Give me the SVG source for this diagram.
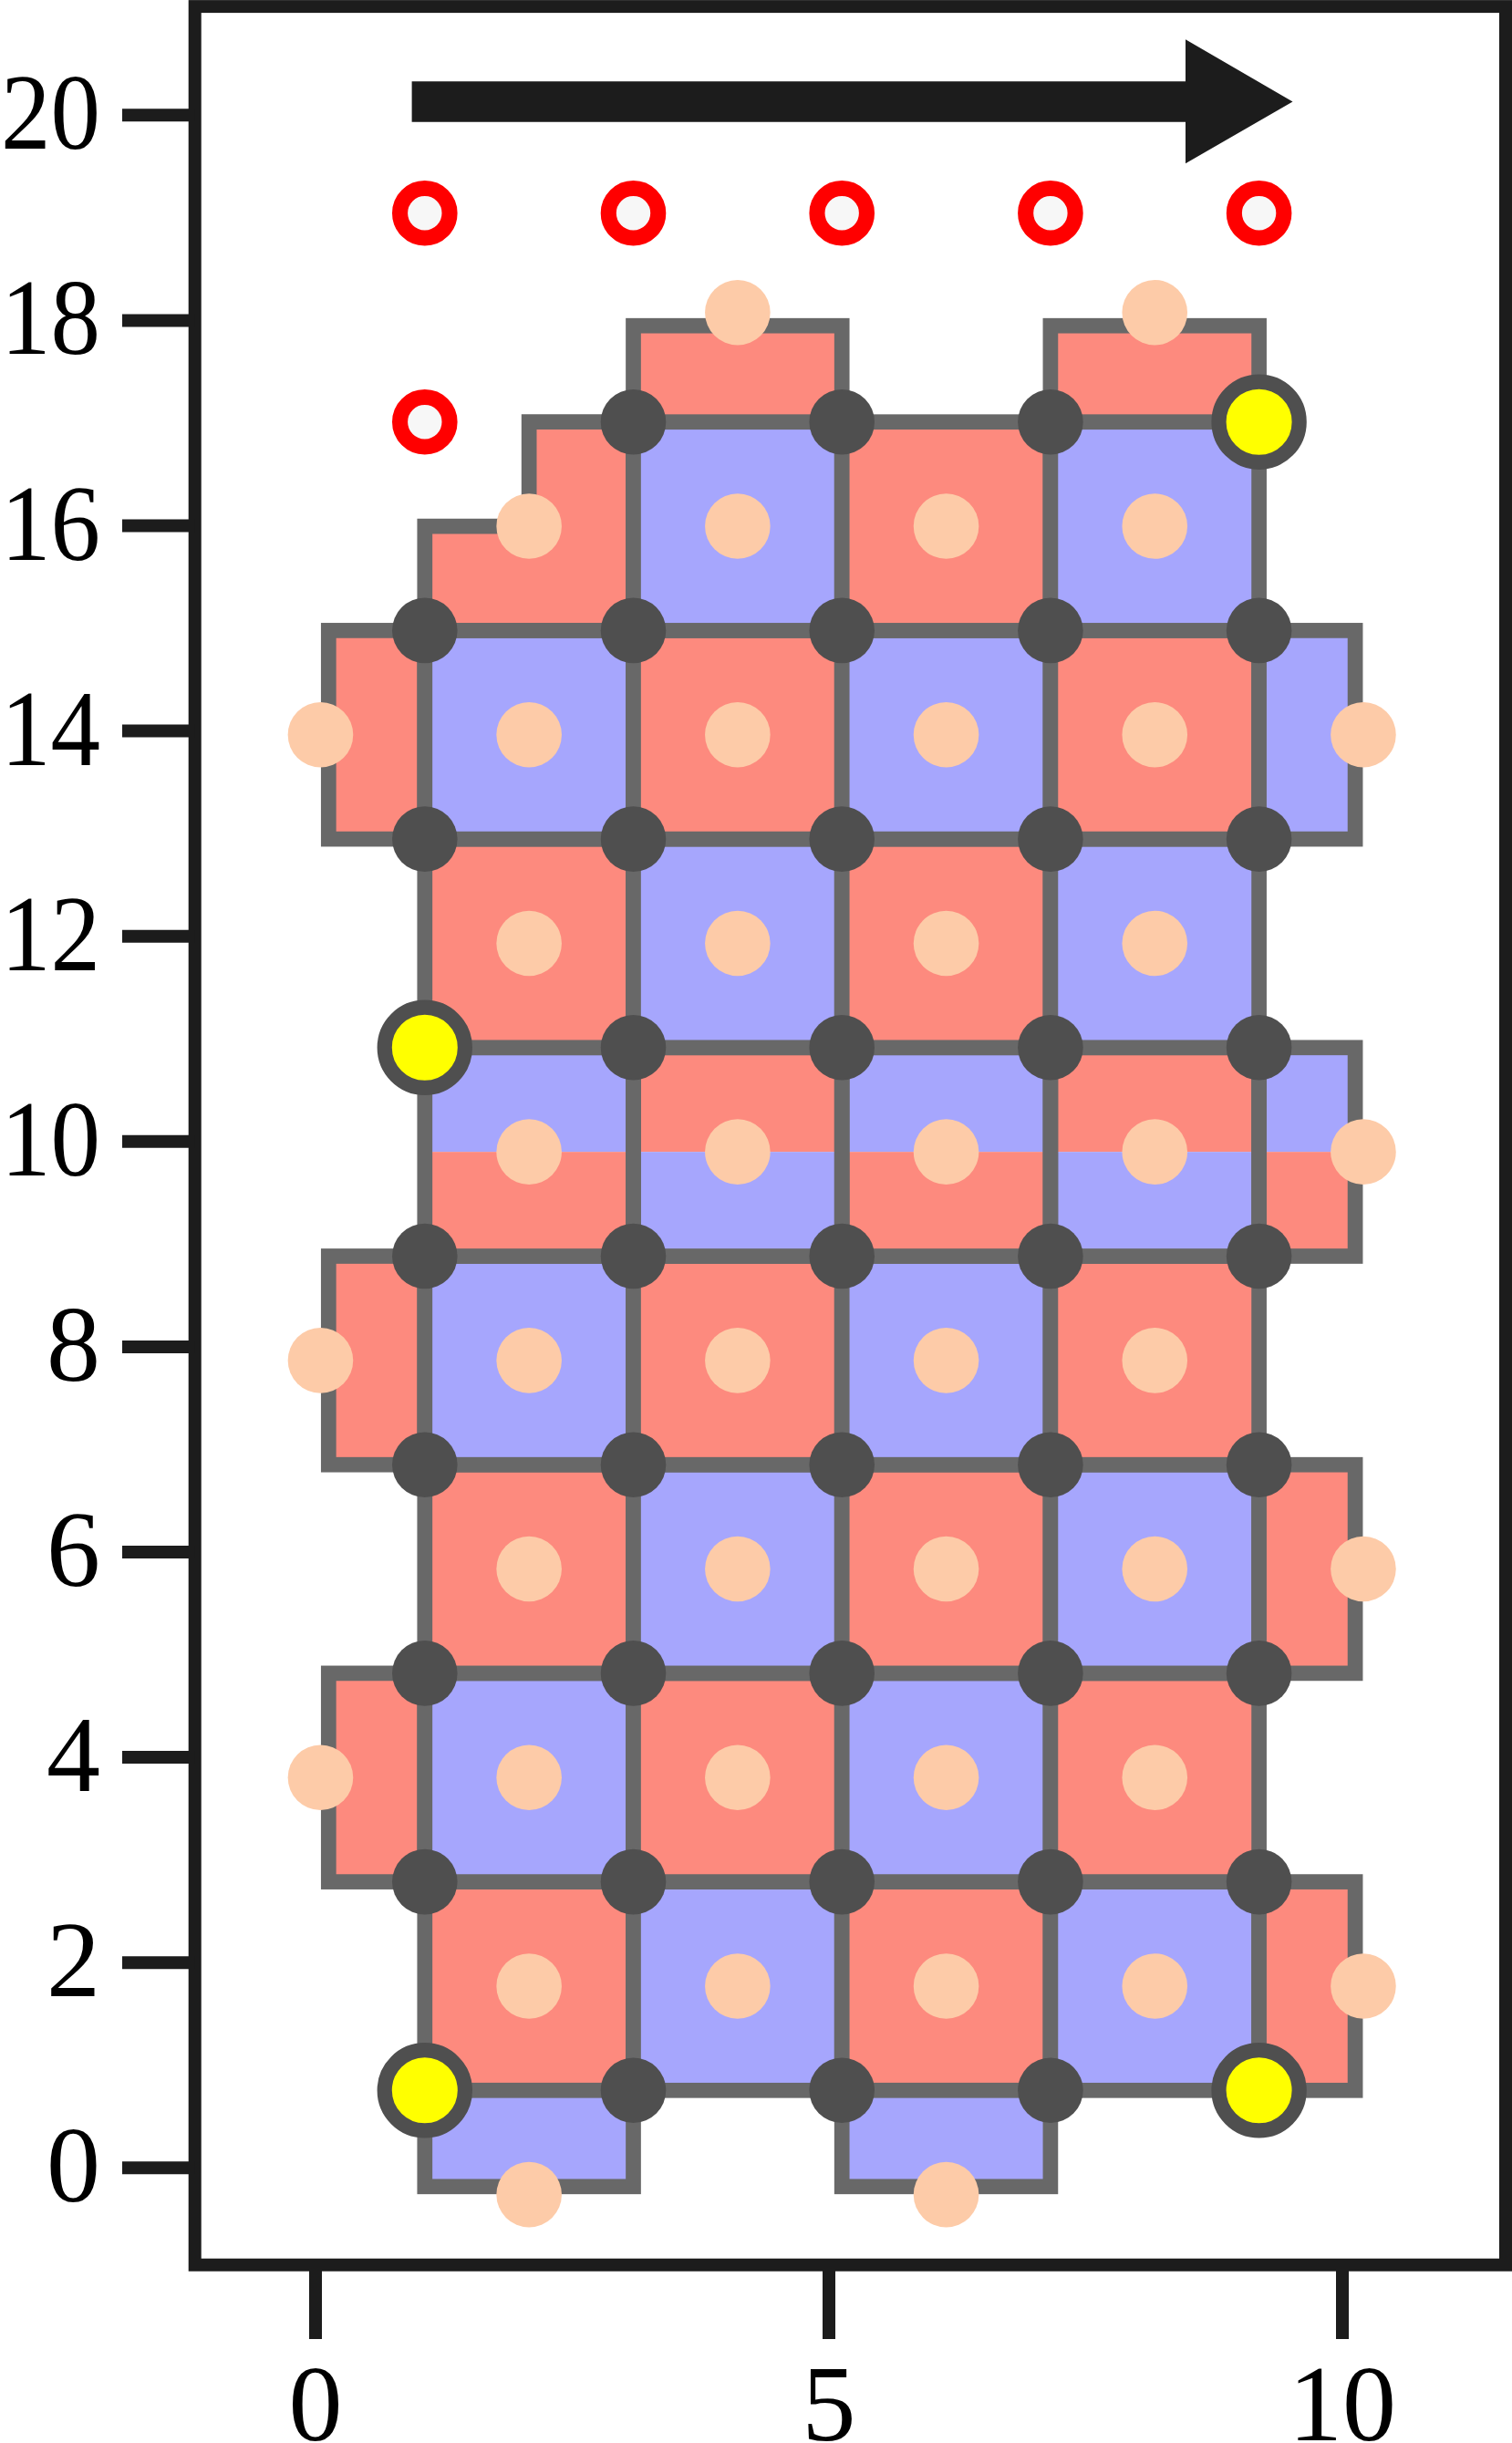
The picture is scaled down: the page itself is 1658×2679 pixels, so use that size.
<svg xmlns="http://www.w3.org/2000/svg" width="1658" height="2679" viewBox="0 0 1658 2679">
<style>
.r{fill:#FD8A7E}
.b{fill:#A6A6FD}
.c{stroke:#686868;stroke-width:16.7;stroke-linejoin:miter}
.o{fill:none;stroke:#686868;stroke-width:16.7}
.p{fill:#FDCBA8}
.n{fill:#4F4F4F}
.y{fill:#FFFF00;stroke:#4F4F4F;stroke-width:16.2}
.e{fill:#F7F7F7;stroke:#FF0000;stroke-width:17.1}
.ax{fill:none;stroke:#1C1C1C;stroke-width:14}
.tk{stroke:#1C1C1C;stroke-width:14}
.lb{font-family:"Liberation Serif","DejaVu Serif",serif;font-size:118px;fill:#000}
</style>
<rect width="1658" height="2679" fill="#fff"/>
<g id="axes">
<rect class="ax" x="213.7" y="7.1" width="1437.3" height="2476.6"/>
<g id="yticks">
<line class="tk" x1="134" y1="126.3" x2="213.7" y2="126.3"/>
<line class="tk" x1="134" y1="351.4" x2="213.7" y2="351.4"/>
<line class="tk" x1="134" y1="576.5" x2="213.7" y2="576.5"/>
<line class="tk" x1="134" y1="801.6" x2="213.7" y2="801.6"/>
<line class="tk" x1="134" y1="1026.7" x2="213.7" y2="1026.7"/>
<line class="tk" x1="134" y1="1251.8" x2="213.7" y2="1251.8"/>
<line class="tk" x1="134" y1="1476.9" x2="213.7" y2="1476.9"/>
<line class="tk" x1="134" y1="1702" x2="213.7" y2="1702"/>
<line class="tk" x1="134" y1="1927.1" x2="213.7" y2="1927.1"/>
<line class="tk" x1="134" y1="2152.2" x2="213.7" y2="2152.2"/>
<line class="tk" x1="134" y1="2377.3" x2="213.7" y2="2377.3"/>
</g>
<g id="ylabels" class="lb">
<text x="1" y="163.3" textLength="109" lengthAdjust="spacingAndGlyphs">20</text>
<text x="1" y="388.4" textLength="109" lengthAdjust="spacingAndGlyphs">18</text>
<text x="1" y="613.5" textLength="109" lengthAdjust="spacingAndGlyphs">16</text>
<text x="1" y="838.6" textLength="109" lengthAdjust="spacingAndGlyphs">14</text>
<text x="1" y="1063.7" textLength="109" lengthAdjust="spacingAndGlyphs">12</text>
<text x="1" y="1288.8" textLength="109" lengthAdjust="spacingAndGlyphs">10</text>
<text x="110" y="1513.9" text-anchor="end">8</text>
<text x="110" y="1739" text-anchor="end">6</text>
<text x="110" y="1964.1" text-anchor="end">4</text>
<text x="110" y="2189.2" text-anchor="end">2</text>
<text x="110" y="2414.3" text-anchor="end">0</text>
</g>
<g id="xticks">
<line class="tk" x1="346" y1="2483.7" x2="346" y2="2565"/>
<line class="tk" x1="909" y1="2483.7" x2="909" y2="2565"/>
<line class="tk" x1="1472" y1="2483.7" x2="1472" y2="2565"/>
</g>
<g id="xlabels" class="lb" text-anchor="middle">
<text x="346" y="2676">0</text>
<text x="909" y="2676">5</text>
<text x="1472" y="2676">10</text>
</g>
</g>
<g id="plaquettes">
<rect class="r c" x="465.8" y="2063.6" width="228.7" height="228.7"/>
<rect class="b c" x="694.5" y="2063.6" width="228.7" height="228.7"/>
<rect class="r c" x="923.2" y="2063.6" width="228.7" height="228.7"/>
<rect class="b c" x="1151.9" y="2063.6" width="228.7" height="228.7"/>
<rect class="r c" x="1380.6" y="2063.6" width="105.5" height="228.7"/>
<rect class="b c" x="465.8" y="2292.3" width="228.7" height="105.5"/>
<rect class="b c" x="923.2" y="2292.3" width="228.7" height="105.5"/>
<rect class="r c" x="360.3" y="1834.9" width="105.5" height="228.7"/>
<rect class="b c" x="465.8" y="1834.9" width="228.7" height="228.7"/>
<rect class="r c" x="694.5" y="1834.9" width="228.7" height="228.7"/>
<rect class="b c" x="923.2" y="1834.9" width="228.7" height="228.7"/>
<rect class="r c" x="1151.9" y="1834.9" width="228.7" height="228.7"/>
<rect class="r c" x="465.8" y="1606.2" width="228.7" height="228.7"/>
<rect class="b c" x="694.5" y="1606.2" width="228.7" height="228.7"/>
<rect class="r c" x="923.2" y="1606.2" width="228.7" height="228.7"/>
<rect class="b c" x="1151.9" y="1606.2" width="228.7" height="228.7"/>
<rect class="r c" x="1380.6" y="1606.2" width="105.5" height="228.7"/>
<rect class="r c" x="360.3" y="1377.5" width="105.5" height="228.7"/>
<rect class="b c" x="465.8" y="1377.5" width="228.7" height="228.7"/>
<rect class="r c" x="694.5" y="1377.5" width="228.7" height="228.7"/>
<rect class="b c" x="923.2" y="1377.5" width="228.7" height="228.7"/>
<rect class="r c" x="1151.9" y="1377.5" width="228.7" height="228.7"/>
<rect class="b" x="465.8" y="1148.8" width="228.7" height="114.35"/>
<rect class="r" x="694.5" y="1148.8" width="228.7" height="114.35"/>
<rect class="b" x="923.2" y="1148.8" width="228.7" height="114.35"/>
<rect class="r" x="1151.9" y="1148.8" width="228.7" height="114.35"/>
<rect class="b" x="1380.6" y="1148.8" width="105.5" height="114.35"/>
<rect class="r" x="465.8" y="1263.15" width="228.7" height="114.35"/>
<rect class="b" x="694.5" y="1263.15" width="228.7" height="114.35"/>
<rect class="r" x="923.2" y="1263.15" width="228.7" height="114.35"/>
<rect class="b" x="1151.9" y="1263.15" width="228.7" height="114.35"/>
<rect class="r" x="1380.6" y="1263.15" width="105.5" height="114.35"/>
<rect class="o" x="465.8" y="1148.8" width="228.7" height="228.7"/>
<rect class="o" x="694.5" y="1148.8" width="228.7" height="228.7"/>
<rect class="o" x="923.2" y="1148.8" width="228.7" height="228.7"/>
<rect class="o" x="1151.9" y="1148.8" width="228.7" height="228.7"/>
<rect class="o" x="1380.6" y="1148.8" width="105.5" height="228.7"/>
<rect class="r c" x="465.8" y="920.1" width="228.7" height="228.7"/>
<rect class="b c" x="694.5" y="920.1" width="228.7" height="228.7"/>
<rect class="r c" x="923.2" y="920.1" width="228.7" height="228.7"/>
<rect class="b c" x="1151.9" y="920.1" width="228.7" height="228.7"/>
<rect class="r c" x="360.3" y="691.4" width="105.5" height="228.7"/>
<rect class="b c" x="465.8" y="691.4" width="228.7" height="228.7"/>
<rect class="r c" x="694.5" y="691.4" width="228.7" height="228.7"/>
<rect class="b c" x="923.2" y="691.4" width="228.7" height="228.7"/>
<rect class="r c" x="1151.9" y="691.4" width="228.7" height="228.7"/>
<rect class="b c" x="1380.6" y="691.4" width="105.5" height="228.7"/>
<path class="r c" d="M465.8,691.4 H694.5 V462.7 H580.15 V577.05 H465.8 Z"/>
<rect class="b c" x="694.5" y="462.7" width="228.7" height="228.7"/>
<rect class="r c" x="923.2" y="462.7" width="228.7" height="228.7"/>
<rect class="b c" x="1151.9" y="462.7" width="228.7" height="228.7"/>
<rect class="r c" x="694.5" y="357.2" width="228.7" height="105.5"/>
<rect class="r c" x="1151.9" y="357.2" width="228.7" height="105.5"/>
</g>
<g id="plaquette-sites" class="p">
<circle cx="580.15" cy="2177.95" r="35.8"/><circle cx="808.85" cy="2177.95" r="35.8"/><circle cx="1037.55" cy="2177.95" r="35.8"/><circle cx="1266.25" cy="2177.95" r="35.8"/>
<circle cx="580.15" cy="1949.25" r="35.8"/><circle cx="808.85" cy="1949.25" r="35.8"/><circle cx="1037.55" cy="1949.25" r="35.8"/><circle cx="1266.25" cy="1949.25" r="35.8"/>
<circle cx="580.15" cy="1720.55" r="35.8"/><circle cx="808.85" cy="1720.55" r="35.8"/><circle cx="1037.55" cy="1720.55" r="35.8"/><circle cx="1266.25" cy="1720.55" r="35.8"/>
<circle cx="580.15" cy="1491.85" r="35.8"/><circle cx="808.85" cy="1491.85" r="35.8"/><circle cx="1037.55" cy="1491.85" r="35.8"/><circle cx="1266.25" cy="1491.85" r="35.8"/>
<circle cx="580.15" cy="1263.15" r="35.8"/><circle cx="808.85" cy="1263.15" r="35.8"/><circle cx="1037.55" cy="1263.15" r="35.8"/><circle cx="1266.25" cy="1263.15" r="35.8"/>
<circle cx="580.15" cy="1034.45" r="35.8"/><circle cx="808.85" cy="1034.45" r="35.8"/><circle cx="1037.55" cy="1034.45" r="35.8"/><circle cx="1266.25" cy="1034.45" r="35.8"/>
<circle cx="580.15" cy="805.75" r="35.8"/><circle cx="808.85" cy="805.75" r="35.8"/><circle cx="1037.55" cy="805.75" r="35.8"/><circle cx="1266.25" cy="805.75" r="35.8"/>
<circle cx="580.15" cy="577.05" r="35.8"/><circle cx="808.85" cy="577.05" r="35.8"/><circle cx="1037.55" cy="577.05" r="35.8"/><circle cx="1266.25" cy="577.05" r="35.8"/>
<circle cx="580.15" cy="2406.65" r="35.8"/><circle cx="1037.55" cy="2406.65" r="35.8"/>
<circle cx="808.85" cy="342.7" r="35.8"/><circle cx="1266.25" cy="342.7" r="35.8"/>
<circle cx="351.45" cy="1949.25" r="35.8"/><circle cx="351.45" cy="1491.85" r="35.8"/><circle cx="351.45" cy="805.75" r="35.8"/>
<circle cx="1494.95" cy="2177.95" r="35.8"/><circle cx="1494.95" cy="1720.55" r="35.8"/><circle cx="1494.95" cy="1263.15" r="35.8"/><circle cx="1494.95" cy="805.75" r="35.8"/>
</g>
<g id="vertices" class="n">
<circle cx="694.5" cy="2292.3" r="35.8"/><circle cx="923.2" cy="2292.3" r="35.8"/><circle cx="1151.9" cy="2292.3" r="35.8"/>
<circle cx="465.8" cy="2063.6" r="35.8"/><circle cx="694.5" cy="2063.6" r="35.8"/><circle cx="923.2" cy="2063.6" r="35.8"/><circle cx="1151.9" cy="2063.6" r="35.8"/><circle cx="1380.6" cy="2063.6" r="35.8"/>
<circle cx="465.8" cy="1834.9" r="35.8"/><circle cx="694.5" cy="1834.9" r="35.8"/><circle cx="923.2" cy="1834.9" r="35.8"/><circle cx="1151.9" cy="1834.9" r="35.8"/><circle cx="1380.6" cy="1834.9" r="35.8"/>
<circle cx="465.8" cy="1606.2" r="35.8"/><circle cx="694.5" cy="1606.2" r="35.8"/><circle cx="923.2" cy="1606.2" r="35.8"/><circle cx="1151.9" cy="1606.2" r="35.8"/><circle cx="1380.6" cy="1606.2" r="35.8"/>
<circle cx="465.8" cy="1377.5" r="35.8"/><circle cx="694.5" cy="1377.5" r="35.8"/><circle cx="923.2" cy="1377.5" r="35.8"/><circle cx="1151.9" cy="1377.5" r="35.8"/><circle cx="1380.6" cy="1377.5" r="35.8"/>
<circle cx="694.5" cy="1148.8" r="35.8"/><circle cx="923.2" cy="1148.8" r="35.8"/><circle cx="1151.9" cy="1148.8" r="35.8"/><circle cx="1380.6" cy="1148.8" r="35.8"/>
<circle cx="465.8" cy="920.1" r="35.8"/><circle cx="694.5" cy="920.1" r="35.8"/><circle cx="923.2" cy="920.1" r="35.8"/><circle cx="1151.9" cy="920.1" r="35.8"/><circle cx="1380.6" cy="920.1" r="35.8"/>
<circle cx="465.8" cy="691.4" r="35.8"/><circle cx="694.5" cy="691.4" r="35.8"/><circle cx="923.2" cy="691.4" r="35.8"/><circle cx="1151.9" cy="691.4" r="35.8"/><circle cx="1380.6" cy="691.4" r="35.8"/>
<circle cx="694.5" cy="462.7" r="35.8"/><circle cx="923.2" cy="462.7" r="35.8"/><circle cx="1151.9" cy="462.7" r="35.8"/>
</g>
<g id="highlighted" class="y">
<circle cx="465.8" cy="2292.3" r="44.1"/>
<circle cx="1380.6" cy="2292.3" r="44.1"/>
<circle cx="465.8" cy="1148.8" r="44.1"/>
<circle cx="1380.6" cy="462.7" r="44.1"/>
</g>
<g id="empty-sites" class="e">
<circle cx="465.8" cy="462.7" r="27.25"/>
<circle cx="465.8" cy="233.8" r="27.25"/>
<circle cx="694.5" cy="233.8" r="27.25"/>
<circle cx="923.2" cy="233.8" r="27.25"/>
<circle cx="1151.9" cy="233.8" r="27.25"/>
<circle cx="1380.6" cy="233.8" r="27.25"/>
</g>
<g id="arrow" fill="#1C1C1C">
<path d="M451.6,89.3 H1300 V43.3 L1417.5,111.5 L1300,179.3 V133.7 H451.6 Z"/>
</g>
</svg>
